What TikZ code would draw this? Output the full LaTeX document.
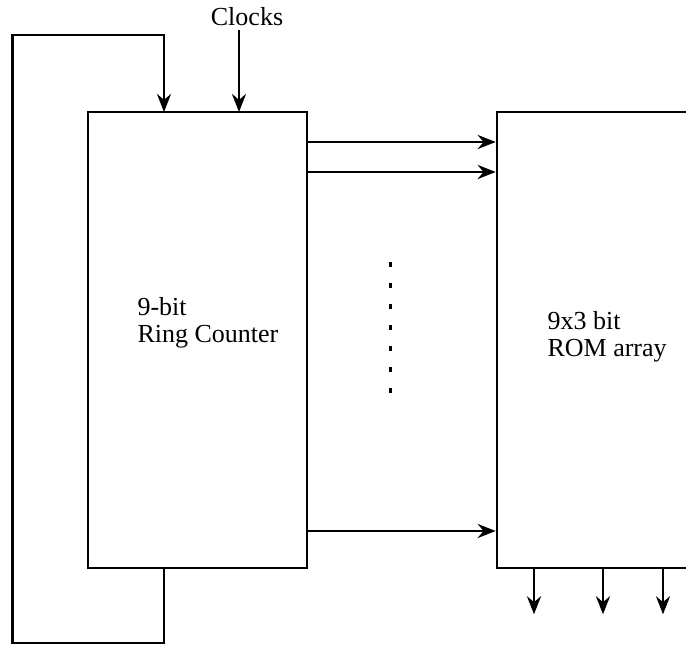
\documentclass[tikz,border=0pt]{standalone}
\usepackage{fontspec}
\setmainfont{Liberation Serif}
\usepackage{tikz}
\usetikzlibrary{positioning, arrows.meta, calc}

\begin{document}
\begin{tikzpicture}[x=1pt, y=-1pt, font=\fontsize{26}{27}\selectfont,
  blk/.style={draw, line width=2.6pt, inner sep=0pt},
  arr/.style={line width=2.6pt, -{Stealth[length=18pt, width=14pt]}}]
\clip (0,0) rectangle (686,646);
% blocks
\node[blk, minimum width=219pt, minimum height=456pt] (rc)  at (197.5,340) {};
\node[blk, minimum width=223pt, minimum height=456pt] (rom) at (608.5,340) {};
\node[anchor=west, align=left] (rctxt)  at (134,323) {9-bit\\Ring Counter};
\node[anchor=west, align=left] (romtxt) at (544,337) {9x3 bit\\ROM array};
\node (clk) at (247,17) {Clocks};
% clock input
\coordinate (clkin) at (239,112);
\draw[arr] (clkin |- clk.south) -- (clkin);
% feedback loop
\coordinate (fbout) at (164,568);
\coordinate (fbin)  at (164,112);
\draw[arr] (fbout) -- (164,643) -- (12.5,643) -- (12.5,35) -- (164,35) -- (fbin);
% counter outputs
\foreach \y in {142,172,531}
  \draw[arr] (rc.east |- 0,\y) -- (rom.west |- 0,\y);
\draw[line width=2.4pt, dash pattern=on 5pt off 16pt] (390.5,262) -- (390.5,400);
% ROM outputs
\foreach \x in {534,603,663}
  \draw[arr] (rom.south -| \x,0) -- ++(0,45);
\end{tikzpicture}
\end{document}
